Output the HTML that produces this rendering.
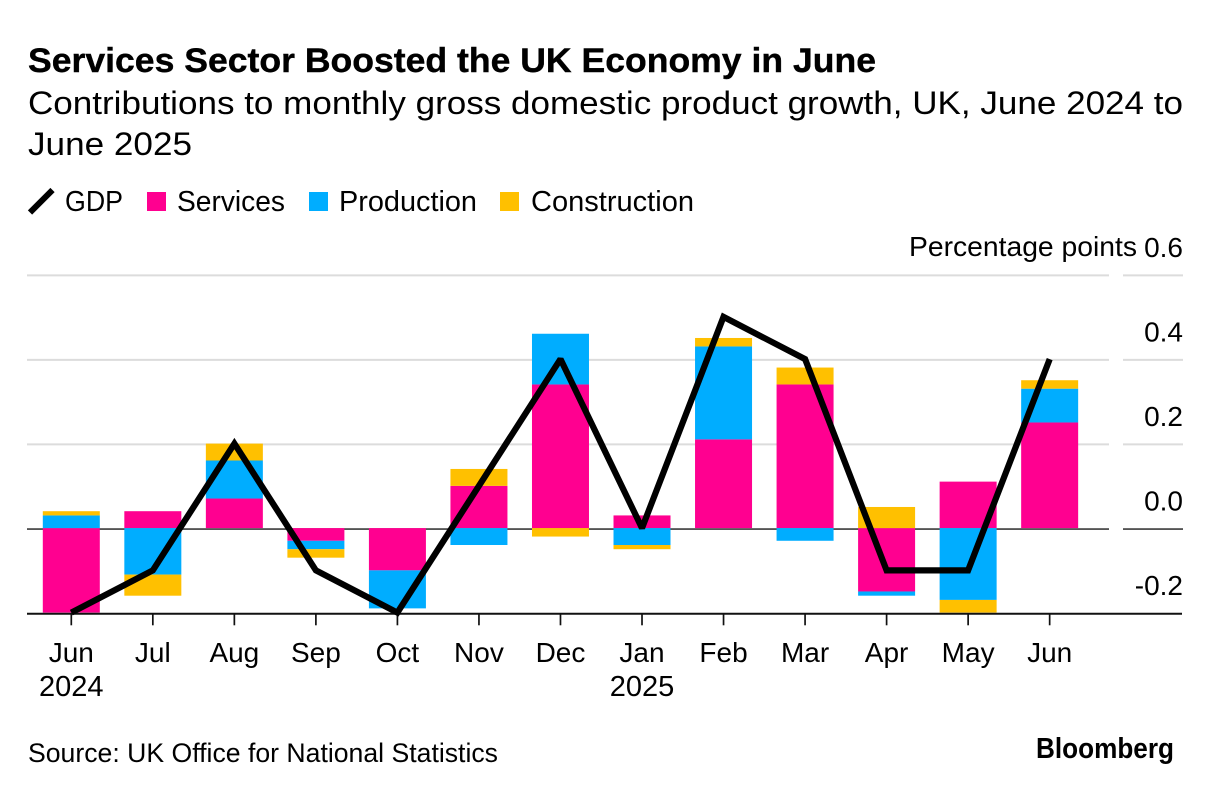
<!DOCTYPE html>
<html lang="en">
<head>
<meta charset="utf-8">
<title>Services Sector Boosted the UK Economy in June</title>
<style>
html,body{margin:0;padding:0;background:#fff;}
svg{display:block;}
text{font-family:"Liberation Sans",sans-serif;fill:#000;}
</style>
</head>
<body>
<svg id="chart" width="1212" height="794" viewBox="0 0 1212 794" xmlns="http://www.w3.org/2000/svg">
  <rect x="0" y="0" width="1212" height="794" fill="#fff"/>
  <text x="28" y="72" font-size="34.5" font-weight="700" stroke="#000" stroke-width="0.4" textLength="848" lengthAdjust="spacingAndGlyphs">Services Sector Boosted the UK Economy in June</text>
  <text x="28" y="114" font-size="32.5" textLength="1155" lengthAdjust="spacingAndGlyphs">Contributions to monthly gross domestic product growth, UK, June 2024 to</text>
  <text x="28" y="155" font-size="32.5" textLength="164" lengthAdjust="spacingAndGlyphs">June 2025</text>

  <g>
    <line x1="30" y1="212.5" x2="52.5" y2="190" stroke="#000" stroke-width="6"/>
    <text x="65" y="211" font-size="28.5" textLength="58" lengthAdjust="spacingAndGlyphs">GDP</text>
    <rect x="147" y="192" width="19" height="19" fill="#ff0090"/>
    <text x="177" y="211" font-size="28.5" textLength="108" lengthAdjust="spacingAndGlyphs">Services</text>
    <rect x="309" y="192" width="19" height="19" fill="#00adff"/>
    <text x="339" y="211" font-size="28.5" textLength="138" lengthAdjust="spacingAndGlyphs">Production</text>
    <rect x="500" y="192" width="19" height="19" fill="#ffc000"/>
    <text x="531" y="211" font-size="28.5" textLength="163" lengthAdjust="spacingAndGlyphs">Construction</text>
  </g>

  <text x="909" y="256" font-size="28" textLength="228" lengthAdjust="spacingAndGlyphs">Percentage points</text>

  <g id="grid"></g>
  <g id="bars"></g>
  <g id="axis"></g>
  <g id="gdp"></g>
  <g id="ylabels"></g>
  <g id="xlabels"></g>

  <text x="28" y="762" font-size="26.5" textLength="470" lengthAdjust="spacingAndGlyphs">Source: UK Office for National Statistics</text>
  <text x="1036" y="758" font-size="29" font-weight="700" textLength="138" lengthAdjust="spacingAndGlyphs">Bloomberg</text>
</svg>
<script>
const months = ['Jun','Jul','Aug','Sep','Oct','Nov','Dec','Jan','Feb','Mar','Apr','May','Jun'];
const yearLabels = ['2024','','','','','','','2025','','','','',''];
const services = [-0.20,0.04,0.07,-0.03,-0.10,0.10,0.34,0.03,0.21,0.34,-0.15,0.11,0.25];
const production = [0.03,-0.11,0.09,-0.02,-0.09,-0.04,0.12,-0.04,0.22,-0.03,-0.01,-0.17,0.08];
const construction = [0.01,-0.05,0.04,-0.02,0,0.04,-0.02,-0.01,0.02,0.04,0.05,-0.03,0.02];
const gdp = [-0.2,-0.1,0.2,-0.1,-0.2,0.1,0.4,0.0,0.5,0.4,-0.1,-0.1,0.4];
const yTicks = [0.6,0.4,0.2,0.0,-0.2];
const yTickLabels = ['0.6','0.4','0.2','0.0','-0.2'];

const NS = 'http://www.w3.org/2000/svg';
function xScale(i){ return 71.3 + i * 81.53; }
function yScale(v){ return 528.1 - v * 422.5; }
function make(tag, attrs, parent){
  const el = document.createElementNS(NS, tag);
  for (const k in attrs) el.setAttribute(k, attrs[k]);
  parent.appendChild(el);
  return el;
}

const gridG = document.getElementById('grid');
yTicks.forEach(function(t){
  const y = yScale(t) + (t === 0 ? 1 : 0.8);
  if (t === yTicks[yTicks.length - 1]) return;
  const color = t === 0 ? '#3c3c3c' : '#dcdcdc';
  const w = t === 0 ? 1.6 : 2;
  const a = make('line', {x1:27, x2:1109, y1:y, y2:y, stroke:color, 'stroke-width':w}, gridG);
  
  
  const b = make('line', {x1:1123, x2:1183, y1:y, y2:y, stroke:color, 'stroke-width':w}, gridG);
  
  
});

const barsG = document.getElementById('bars');
const seriesNames = ['services','production','construction'];
const seriesColors = ['#ff0090','#00adff','#ffc000'];
const seriesValues = [services, production, construction];
months.forEach(function(m, i){
  let pos = 0, neg = 0;
  seriesValues.forEach(function(vals, s){
    const v = vals[i];
    const start = v >= 0 ? pos : neg;
    const end = start + v;
    if (v >= 0) pos = end; else neg = end;
    const y1 = yScale(Math.max(start, end));
    const y2 = yScale(Math.min(start, end));
    const r = make('rect', {x:xScale(i) - 28.5, y:y1, width:57, height:y2 - y1, fill:seriesColors[s]}, barsG);
    
    
  });
});

const axisG = document.getElementById('axis');
const baseY = yScale(yTicks[yTicks.length - 1]) + 1.2;
const axisLine = make('line', {x1:27, x2:1182, y1:baseY, y2:baseY, stroke:'#111', 'stroke-width':2}, axisG);


months.forEach(function(m, i){
  const t = make('line', {x1:xScale(i), x2:xScale(i), y1:baseY, y2:baseY + 11.5, stroke:'#111', 'stroke-width':1.7}, axisG);
  
  
});

const gdpG = document.getElementById('gdp');
const pts = gdp.map(function(v, i){ return xScale(i).toFixed(1) + ',' + yScale(v).toFixed(1); }).join(' ');
const gdpLine = make('polyline', {points:pts, fill:'none', stroke:'#000', 'stroke-width':6.2, 'stroke-linejoin':'miter', 'stroke-miterlimit':2, 'stroke-linecap':'butt'}, gdpG);



const yG = document.getElementById('ylabels');
yTickLabels.forEach(function(label, i){
  const el = make('text', {x:1183, y:yScale(yTicks[i]) - 17.5, 'text-anchor':'end', 'font-size':28}, yG);
  el.textContent = label;
  
  
});

const xG = document.getElementById('xlabels');
months.forEach(function(m, i){
  const el = make('text', {x:xScale(i), y:662, 'text-anchor':'middle', 'font-size':28}, xG);
  el.textContent = m;
  
  
  if (yearLabels[i]) {
    const yr = make('text', {x:xScale(i), y:696, 'text-anchor':'middle', 'font-size':29}, xG);
    yr.textContent = yearLabels[i];
    
    
  }
});
</script>
</body>
</html>
